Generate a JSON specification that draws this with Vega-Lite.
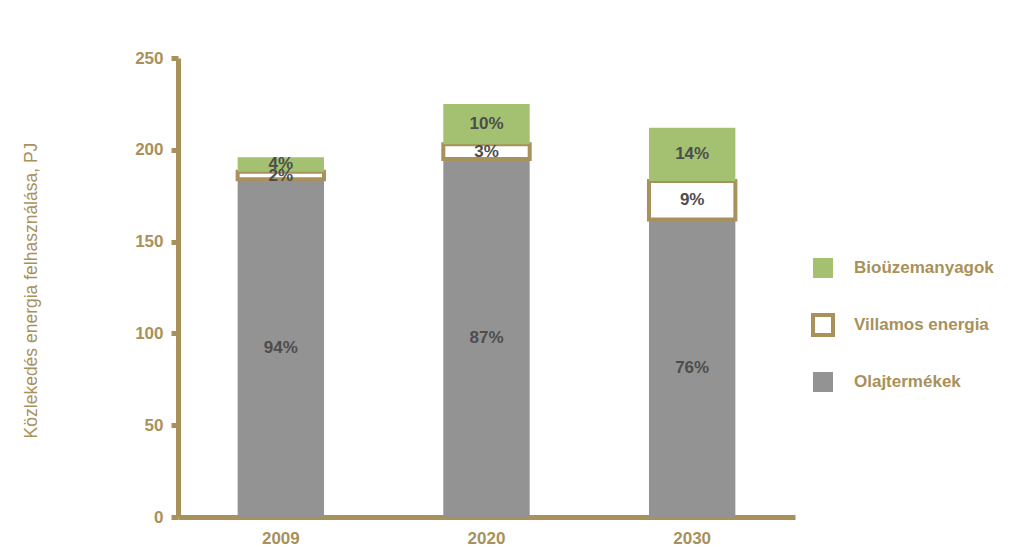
{
  "$schema": "https://vega.github.io/schema/vega-lite/v6.json",
  "autosize": {"type": "none"},
  "width": 617,
  "height": 459,
  "padding": {"left": 178, "top": 58, "right": 231, "bottom": 34},
  "background": "white",
  "config": {
    "font": "Liberation Sans",
    "view": {"stroke": null},
    "axis": {"grid": false}
  },
  "data": {
    "values": [
      {"year": "2009", "cat": "Olajtermékek", "ord": 1, "value": 184, "label": "94%"},
      {"year": "2009", "cat": "Villamos energia", "ord": 2, "value": 4, "label": "2%"},
      {"year": "2009", "cat": "Bioüzemanyagok", "ord": 3, "value": 8, "label": "4%"},
      {"year": "2020", "cat": "Olajtermékek", "ord": 1, "value": 195, "label": "87%"},
      {"year": "2020", "cat": "Villamos energia", "ord": 2, "value": 8, "label": "3%"},
      {"year": "2020", "cat": "Bioüzemanyagok", "ord": 3, "value": 22, "label": "10%"},
      {"year": "2030", "cat": "Olajtermékek", "ord": 1, "value": 162, "label": "76%"},
      {"year": "2030", "cat": "Villamos energia", "ord": 2, "value": 21, "label": "9%"},
      {"year": "2030", "cat": "Bioüzemanyagok", "ord": 3, "value": 29, "label": "14%"}
    ]
  },
  "transform": [
    {"stack": "value", "groupby": ["year"], "sort": [{"field": "ord", "order": "ascending"}], "as": ["y0", "y1"]},
    {"calculate": "(datum.y0 + datum.y1) / 2", "as": "mid"}
  ],
  "encoding": {
    "x": {
      "field": "year", "type": "nominal", "sort": ["2009", "2020", "2030"],
      "scale": {"paddingInner": 0.58, "paddingOuter": 0.29},
      "axis": {
        "title": null, "labelAngle": 0, "ticks": false,
        "domainColor": "#A8915A", "domainWidth": 5,
        "labelColor": "#A8915A", "labelFontWeight": "bold", "labelFontSize": 17,
        "labelPadding": 13
      }
    }
  },
  "layer": [
    {
      "mark": {"type": "bar", "strokeWidth": 4},
      "encoding": {
        "y": {
          "field": "y0", "type": "quantitative",
          "scale": {"domain": [0, 250], "nice": false},
          "axis": {
            "title": "Közlekedés energia felhasználása, PJ",
            "values": [0, 50, 100, 150, 200, 250],
            "domainColor": "#A8915A", "domainWidth": 5,
            "tickColor": "#A8915A", "tickWidth": 5, "tickSize": 7,
            "labelColor": "#A8915A", "labelFontWeight": "bold", "labelFontSize": 17,
            "labelPadding": 8,
            "titleColor": "#A8915A", "titleFontSize": 17.5, "titleFontWeight": "normal",
            "titleX": -138, "titleY": 232, "titleAnchor": "middle"
          }
        },
        "y2": {"field": "y1"},
        "color": {
          "field": "cat", "type": "nominal",
          "scale": {"domain": ["Bioüzemanyagok", "Villamos energia", "Olajtermékek"], "range": ["#A3C170", "#FFFFFF", "#939393"]},
          "legend": {
            "title": null, "orient": "none", "legendX": 633, "legendY": 198,
            "symbolType": "square", "symbolSize": 400, "symbolStrokeWidth": 4,
            "labelFontSize": 17, "labelFontWeight": "bold", "labelColor": "#A8915A",
            "labelOffset": 19, "rowPadding": 21, "symbolOpacity": 1
          }
        },
        "stroke": {
          "field": "cat", "type": "nominal",
          "scale": {"domain": ["Bioüzemanyagok", "Villamos energia", "Olajtermékek"], "range": ["transparent", "#A8915A", "transparent"]},
          "legend": null
        }
      }
    },
    {
      "mark": {"type": "text", "fontSize": 17, "fontWeight": "bold", "color": "#4d4d4d", "baseline": "middle"},
      "encoding": {
        "y": {"field": "mid", "type": "quantitative"},
        "text": {"field": "label"}
      }
    }
  ]
}
